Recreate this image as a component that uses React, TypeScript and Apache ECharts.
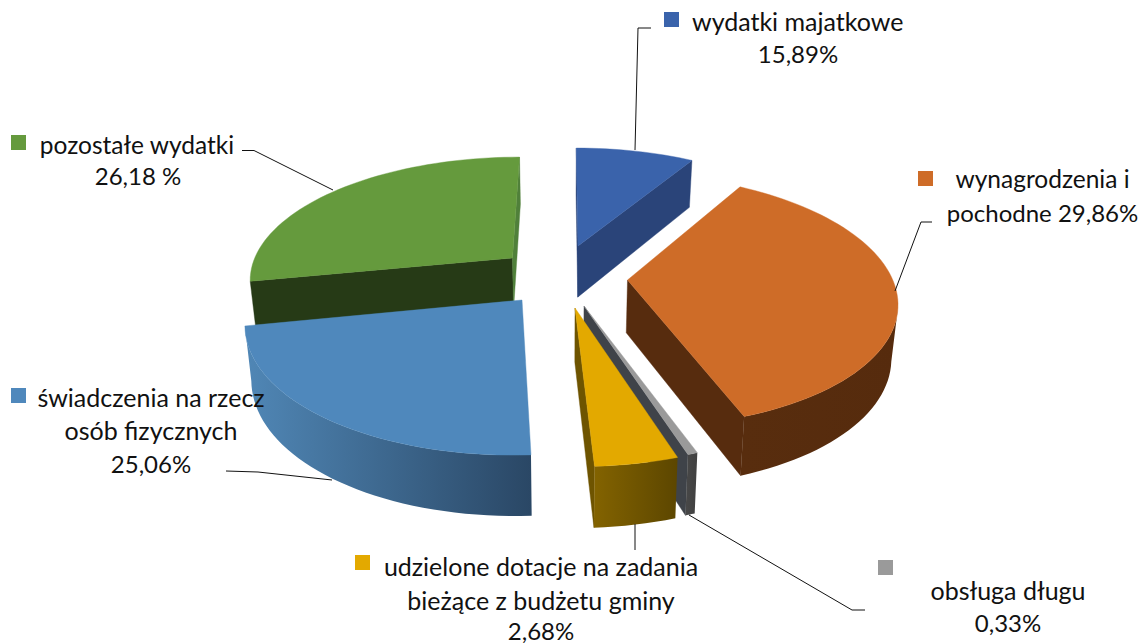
import React, { useEffect, useRef } from "react";
import * as echarts from "echarts";

// Data
const categories = [
  "wydatki majatkowe",
  "wynagrodzenia i pochodne",
  "obsługa długu",
  "udzielone dotacje na zadania bieżące z budżetu gminy",
  "świadczenia na rzecz osób fizycznych",
  "pozostałe wydatki",
];
// share of the circle each slice occupies as drawn (clockwise from 12 o'clock)
const drawnShares = [8.6, 35.9, 0.5, 4.15, 22.75, 28.1];
const printedPercents = ["15,89%", "29,86%", "0,33%", "2,68%", "25,06%", "26,18 %"];

// Styles
const topColors = ["#3a63ab", "#ce6c28", "#9a9a9a", "#e3a900", "#4f88bc", "#659a3d"];
const radialWallColors = ["#2a4479", "#572c0e", "#3f4349", "#6e5400", "#2b4a6b", "#263a16"];
const sideFrom = ["#2a4479", "#582d0e", "#484848", "#836300", "#5087b6", "#263a16"];
const sideTo = ["#2a4479", "#562b0d", "#404040", "#5c4600", "#2a4765", "#263a16"];
const endWallOverride: Record<number, string> = { 5: "#50803a" };

// Layout: paint order, projection and the apex of each pulled-out slice
const paintOrder = [5, 0, 1, 2, 3, 4];
const CX = 565;
const CY = 285;
const A = 267;
const B = 125;
const P = 0.16;
const H = 53;
const SHRINK = 0.02;
const apexes: [number, number][] = [
  [578, 246],
  [627.5, 280],
  [584, 306],
  [575, 308],
  [522, 300],
  [512.5, 258],
];

const total = drawnShares.reduce((a, b) => a + b, 0);
const toGround = (sx: number, sy: number): [number, number] => {
  const ry = sy - CY;
  const g = ry / (B + P * ry);
  const s = 1 / (1 - P * g);
  return [(sx - CX) / (A * s), g];
};
const project = (gx: number, gy: number, low: boolean): number[] => {
  const s = 1 / (1 - P * gy);
  const x = A * gx * s;
  const y = B * gy * s;
  return low ? [CX + x * (1 - SHRINK), CY + y + H * Math.pow(s, 0.7)] : [CX + x, CY + y];
};

const renderSlice = (_params: any, api: any) => {
  const i = api.value(0) as number;
  let acc = 0;
  for (let k = 0; k < i; k++) acc += drawnShares[k];
  const t0 = (acc / total) * Math.PI * 2;
  const t1 = ((acc + (api.value(1) as number)) / total) * Math.PI * 2;
  const [gx0, gy0] = toGround(apexes[i][0], apexes[i][1]);
  const rim = (t: number): [number, number] => [gx0 + Math.sin(t), gy0 - Math.cos(t)];
  const eye = [0, 1 / P];
  const children: any[] = [];
  const poly = (pts: number[][], fill: any) => {
    children.push({
      type: "polygon",
      shape: { points: pts },
      style: { fill, stroke: fill instanceof echarts.graphic.LinearGradient ? "none" : fill, lineWidth: 0.4 },
    });
  };
  const wall = (t: number, fill: string) => {
    const e = rim(t);
    poly(
      [project(gx0, gy0, false), project(e[0], e[1], false), project(e[0], e[1], true), project(gx0, gy0, true)],
      fill
    );
  };
  // radial walls, only those facing the viewer
  const startNormal = [-Math.cos(t0), -Math.sin(t0)];
  const endNormal = [Math.cos(t1), Math.sin(t1)];
  const toEye = [eye[0] - gx0, eye[1] - gy0];
  if (startNormal[0] * toEye[0] + startNormal[1] * toEye[1] > 0) wall(t0, radialWallColors[i]);
  if (endNormal[0] * toEye[0] + endNormal[1] * toEye[1] > 0) wall(t1, endWallOverride[i] || radialWallColors[i]);
  // arc samples
  const steps = Math.max(6, Math.ceil(((t1 - t0) / Math.PI) * 90));
  const arc: [number, number, number][] = [];
  for (let k = 0; k <= steps; k++) arc.push([...rim(t0 + ((t1 - t0) * k) / steps), t0 + ((t1 - t0) * k) / steps] as any);
  // outer wall: the part of the rim facing the viewer
  const visible = arc.filter(([x, y, t]) => {
    const d = [Math.sin(t), -Math.cos(t)];
    return d[0] * (eye[0] - x) + d[1] * (eye[1] - y) > 0;
  });
  if (visible.length > 1) {
    const up = visible.map(([x, y]) => project(x, y, false));
    const low = visible.map(([x, y]) => project(x, y, true)).reverse();
    poly(
      up.concat(low),
      new echarts.graphic.LinearGradient(0, 0, 1, 0, [
        { offset: 0, color: sideFrom[i] },
        { offset: 1, color: sideTo[i] },
      ])
    );
  }
  // top face
  poly([project(gx0, gy0, false), ...arc.map(([x, y]) => project(x, y, false))], topColors[i]);
  return { type: "group", children };
};

const FONT = "Lato, 'Open Sans', sans-serif";
const text = (s: string, x: number, y: number, align: string, fontSize = 25) => ({
  type: "text",
  x,
  y,
  z: 10,
  style: { text: s, fontFamily: FONT, fontSize, fill: "#111", textAlign: align, textVerticalAlign: "middle" },
});
const swatch = (x: number, y: number, fill: string) => ({
  type: "rect",
  z: 10,
  shape: { x, y, width: 15, height: 15 },
  style: { fill },
});
const leader = (pts: number[][]) => ({
  type: "polyline",
  z: 10,
  shape: { points: pts },
  style: { stroke: "#111", lineWidth: 1, fill: "none" },
});

const graphics = [
  swatch(664, 12, topColors[0]),
  text("wydatki majatkowe", 692, 21, "left"),
  text(printedPercents[0], 798, 53, "center", 24),
  leader([[635, 150], [638, 28], [651, 28]]),

  swatch(918, 171, topColors[1]),
  text("wynagrodzenia i", 1042.5, 178, "center", 24.5),
  text("pochodne " + printedPercents[1], 1042.5, 212, "center", 24),
  leader([[895, 291], [921, 222], [932, 222]]),

  swatch(878, 560, topColors[2]),
  text("obsługa długu", 1008, 590, "center"),
  text(printedPercents[2], 1008, 622, "center", 24),
  leader([[689, 515], [852, 610], [865, 610]]),

  swatch(355, 555, topColors[3]),
  text("udzielone dotacje na zadania", 541, 566, "center"),
  text("bieżące z budżetu gminy", 541, 600, "center"),
  text(printedPercents[3], 541, 630, "center", 24),
  leader([[635, 524], [635, 550]]),

  swatch(11, 388, topColors[4]),
  text("świadczenia na rzecz", 151, 397, "center"),
  text("osób fizycznych", 151, 430, "center"),
  text(printedPercents[4], 151, 463, "center", 24),
  leader([[332, 480], [258, 472], [226, 471]]),

  swatch(11, 135, topColors[5]),
  text("pozostałe wydatki", 137, 144, "center", 24.5),
  text(printedPercents[5], 138, 175, "center", 24),
  leader([[333, 190], [254, 150.5], [242, 150.5]]),
];

export default function App() {
  const ref = useRef<HTMLDivElement>(null);
  useEffect(() => {
    const chart = echarts.init(ref.current!, undefined, { renderer: "svg" });
    chart.setOption({
      animation: false,
      backgroundColor: "#ffffff",
      graphic: { elements: graphics },
      series: [
        {
          type: "custom",
          coordinateSystem: "none",
          name: "wydatki",
          renderItem: renderSlice,
          data: paintOrder.map((i) => ({ name: categories[i], value: [i, drawnShares[i]] })),
          silent: true,
        },
      ],
    });
    return () => chart.dispose();
  }, []);
  return <div ref={ref} style={{ position: "fixed", left: 0, top: 0, width: 1148, height: 643 }} />;
}
